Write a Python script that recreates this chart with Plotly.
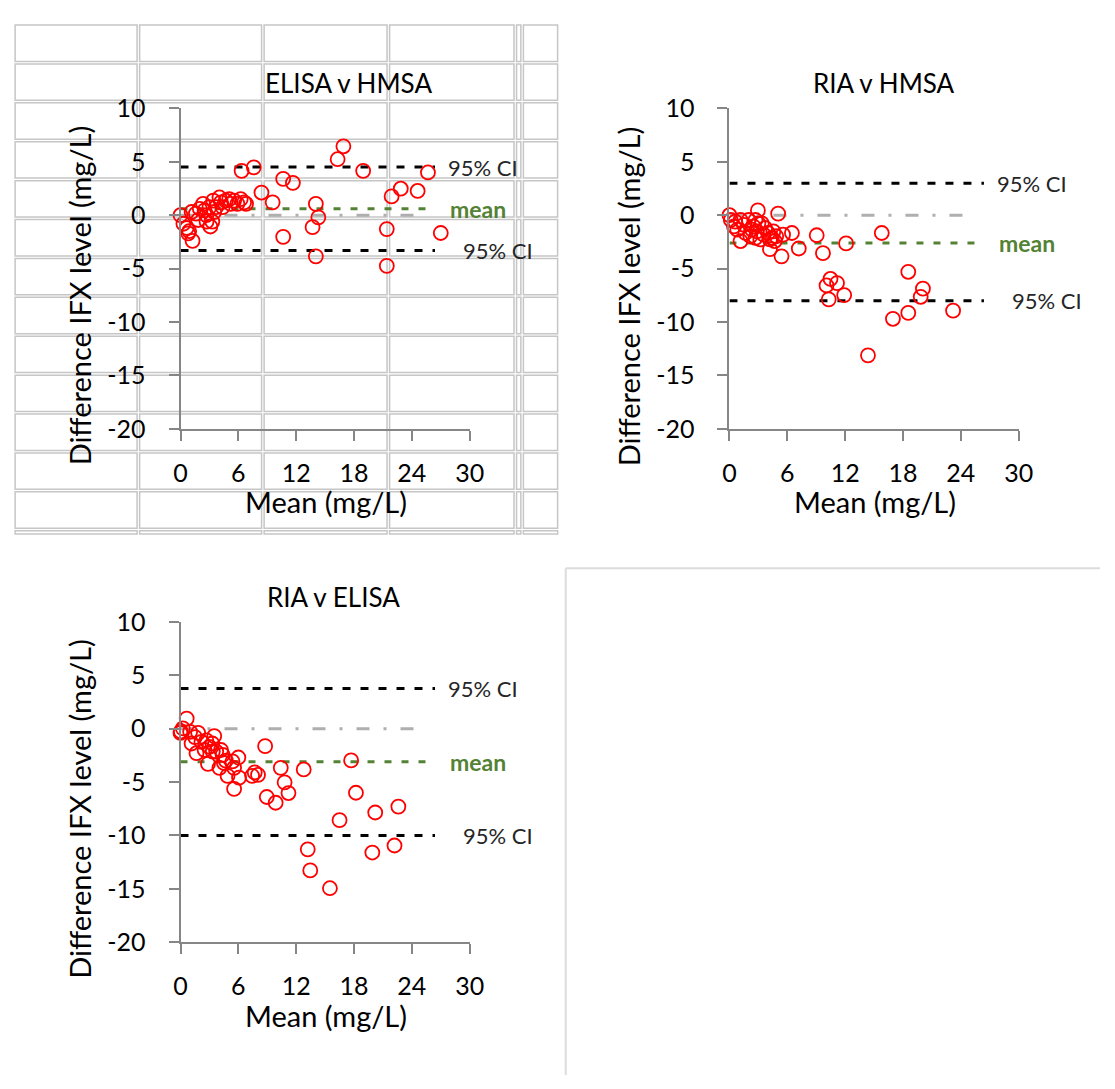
import plotly.graph_objects as go

W, H = 1115, 1089

# ---------------- data ----------------
titles = ["ELISA v HMSA", "RIA v HMSA", "RIA v ELISA"]
x_title = "Mean (mg/L)"
y_title = "Difference IFX level (mg/L)"
x_ticks = [0, 6, 12, 18, 24, 30]
y_ticks = [10, 5, 0, -5, -10, -15, -20]

elisa_hmsa_mean = [0.0, 0.64, 0.9, 1.25, 0.8, 1.6, 1.83, 2.34, 2.5, 3.0, 3.1, 3.3, 3.5,
                   4.04, 4.2, 4.7, 5.05, 5.2, 5.56, 6.24, 6.6, 6.8, 6.34, 7.6, 8.4, 9.56,
                   10.65, 11.66, 10.65, 14.04, 14.3, 13.7, 14.04, 16.3, 16.9, 18.95, 21.4,
                   21.4, 21.9, 22.85, 24.6, 25.67, 27.0, 1.15, 2.0, 2.68, 3.7, 3.4, 4.37,
                   5.9, 0.3, 2.7]
elisa_hmsa_diff = [0.0, -1.2, -1.5, -2.4, -1.7, 0.15, -0.45, 1.06, 0.45, 0.75, -1.06, -0.6, 0.3,
                   1.66, 1.2, 1.36, 1.5, 1.06, 1.36, 1.5, 1.2, 1.06, 4.15, 4.48, 2.12, 1.2,
                   3.4, 3.03, -2.03, 1.06, -0.2, -1.12, -3.85, 5.24, 6.45, 4.15, -1.3,
                   -4.75, 1.76, 2.48, 2.27, 4.0, -1.67, 0.3, 0.6, 0.0, 0.75, 1.36, 0.75,
                   1.06, -0.8, -0.6]

ria_hmsa_mean = [0.0, 2.95, 5.05, 0.47, 0.81, 1.15, 1.15, 1.66, 2.0, 2.17, 2.5, 2.85, 3.2,
                 3.35, 3.7, 4.0, 4.2, 4.4, 4.7, 5.4, 5.56, 6.48, 7.19, 9.05, 9.7, 12.1,
                 15.8, 10.07, 10.48, 11.16, 10.3, 11.9, 14.37, 16.96, 18.55, 18.55, 19.84,
                 20.07, 23.2, 0.14, 0.6, 1.5, 2.7, 3.0, 3.55, 4.2, 4.55, 4.85, 2.7, 2.35]
ria_hmsa_diff = [0.0, 0.45, 0.15, -1.06, -1.36, -0.45, -2.42, -1.67, -0.45, -1.97, -1.06, -1.52,
                 -2.27, -0.76, -1.2, -1.67, -3.18, -2.12, -2.42, -3.85, -1.82, -1.67, -3.12,
                 -1.88, -3.55, -2.64, -1.67, -6.58, -5.97, -6.36, -7.88, -7.48, -13.12,
                 -9.7, -5.3, -9.15, -7.64, -6.88, -8.94, -0.45, -0.6, -0.9, -0.45, -0.76,
                 -1.82, -2.27, -1.52, -1.97, -2.12, -1.36]

ria_elisa_mean = [0.03, 0.24, 0.64, 0.0, 1.15, 1.5, 1.66, 1.83, 2.17, 2.5, 2.68, 2.85, 3.0,
                  3.3, 3.5, 3.7, 4.04, 4.2, 4.37, 4.7, 4.88, 5.39, 5.56, 5.56, 6.0, 6.07,
                  7.43, 8.04, 7.7, 8.78, 8.95, 9.87, 10.4, 10.8, 11.2, 12.78, 13.2, 13.46,
                  15.5, 16.5, 17.7, 18.2, 19.9, 20.2, 22.2, 22.6, 1.0, 3.35, 4.5]
ria_elisa_diff = [-0.27, 0.03, 0.94, -0.4, -1.39, -0.79, -2.3, -0.39, -1.24, -2.0, -1.09, -3.3,
                  -1.7, -1.39, -0.7, -2.15, -3.67, -2.0, -2.45, -3.0, -4.42, -3.06, -3.67,
                  -5.64, -2.7, -4.58, -4.42, -4.33, -4.1, -1.64, -6.4, -6.94, -3.67, -5.03,
                  -6.03, -3.82, -11.3, -13.27, -14.94, -8.57, -2.97, -6.0, -11.6, -7.85,
                  -10.94, -7.3, -0.3, -2.15, -3.2]

ci_upper = [4.5, 3.0, 3.75]
bias_mean = [0.6, -2.6, -3.1]
ci_lower = [-3.3, -8.0, -10.0]
limit_line_x = [0, 26.4]
zero_line_x = [0, 25.2]

panels_x = [elisa_hmsa_mean, ria_hmsa_mean, ria_elisa_mean]
panels_y = [elisa_hmsa_diff, ria_hmsa_diff, ria_elisa_diff]

# ---------------- layout geometry (pixels) ----------------
panel_px = [(177, 472, 95, 424.5), (737, 1032, 95, 424.5), (177, 472, 623, 952.5)]
title_pos = [(348, 69), (895, 69), (333, 597)]

FONT = "Lato"
AXIS_GRAY = "#868686"
RED = "#FF0000"
GREEN = "#548235"


def fx(px):
    return px / W


def fy(py):
    return 1 - py / H


fig = go.Figure()
layout = dict(
    width=W, height=H, margin=dict(l=0, r=0, t=0, b=0), autosize=False,
    paper_bgcolor="white", plot_bgcolor="rgba(0,0,0,0)",
    showlegend=False, font=dict(family=FONT, color="#000000"),
)
annotations = []
shapes = []

for i in range(3):
    n = "" if i == 0 else str(i + 1)
    xa, ya = "x" + n, "y" + n
    x0, x1, y0, y1 = panel_px[i]
    layout["xaxis" + n] = dict(
        domain=[fx(x0), fx(x1)], range=[0, 30], anchor=ya,
        tickvals=x_ticks, ticktext=[str(v) for v in x_ticks],
        showline=True, linecolor=AXIS_GRAY, linewidth=2,
        ticks="outside", ticklen=10, tickwidth=2, tickcolor=AXIS_GRAY,
        showgrid=False, zeroline=False, ticklabelstandoff=11,
        tickfont=dict(family=FONT, size=25, color="#000000"),
    )
    layout["yaxis" + n] = dict(
        domain=[fy(y1), fy(y0)], range=[-20, 10], anchor=xa,
        tickvals=y_ticks, ticktext=[str(v) for v in y_ticks],
        showline=True, linecolor=AXIS_GRAY, linewidth=2,
        ticks="outside", ticklen=10, tickwidth=2, tickcolor=AXIS_GRAY,
        showgrid=False, zeroline=False, ticklabelstandoff=18,
        tickfont=dict(family=FONT, size=25, color="#000000"),
    )

    # zero reference line (gray dash-dot)
    fig.add_trace(go.Scatter(
        x=zero_line_x, y=[0, 0], mode="lines", xaxis=xa, yaxis=ya,
        line=dict(color="#afafaf", width=3, dash="13px,14px,3px,14px"),
        cliponaxis=False, hoverinfo="skip"))
    # limits of agreement
    for val in (ci_upper[i], ci_lower[i]):
        fig.add_trace(go.Scatter(
            x=limit_line_x, y=[val, val], mode="lines", xaxis=xa, yaxis=ya,
            line=dict(color="#000000", width=3, dash="8px,10px"),
            cliponaxis=False, hoverinfo="skip"))
    # mean difference
    fig.add_trace(go.Scatter(
        x=limit_line_x, y=[bias_mean[i], bias_mean[i]], mode="lines", xaxis=xa, yaxis=ya,
        line=dict(color=GREEN, width=3, dash="7px,10px"),
        cliponaxis=False, hoverinfo="skip"))
    # data points
    fig.add_trace(go.Scatter(
        x=panels_x[i], y=panels_y[i], mode="markers", xaxis=xa, yaxis=ya,
        marker=dict(symbol="circle-open", size=14, color=RED, line=dict(width=1.8, color=RED)),
        cliponaxis=False))

    # line labels
    annotations.append(dict(x=27.57, y=ci_upper[i], xref=xa, yref=ya, text="95% CI",
                            showarrow=False, xanchor="left", yanchor="middle",
                            font=dict(family=FONT, size=22, color="#262626")))
    annotations.append(dict(x=27.8, y=bias_mean[i], xref=xa, yref=ya, text="<b>mean</b>",
                            showarrow=False, xanchor="left", yanchor="middle",
                            font=dict(family=FONT, size=23, color=GREEN)))
    annotations.append(dict(x=29.1, y=ci_lower[i], xref=xa, yref=ya, text="95% CI",
                            showarrow=False, xanchor="left", yanchor="middle",
                            font=dict(family=FONT, size=22, color="#262626")))

    # chart title
    tx, ty = title_pos[i]
    annotations.append(dict(x=fx(tx), y=fy(ty), xref="paper", yref="paper", text=titles[i],
                            showarrow=False, xanchor="center", yanchor="middle",
                            font=dict(family=FONT, size=26, color="#000000")))
    # axis titles
    annotations.append(dict(x=fx(x0 - 103), y=fy((y0 + y1) / 2 + 28), xref="paper", yref="paper",
                            text=y_title, textangle=-90,
                            showarrow=False, xanchor="center", yanchor="middle",
                            font=dict(family=FONT, size=29, color="#000000")))
    annotations.append(dict(x=fx(x0 + 148), y=fy(y1 + 75), xref="paper", yref="paper",
                            text=x_title, showarrow=False, xanchor="center", yanchor="middle",
                            font=dict(family=FONT, size=29, color="#000000")))

# spreadsheet cell grid behind the first chart
col_edges = [7, 134, 261, 389, 518.5, 525.5, 563]
row_edges = [8 + 40 * k for k in range(14)] + [534]
inset = 1.3
for c in range(len(col_edges) - 1):
    for r in range(len(row_edges) - 1):
        shapes.append(dict(type="rect", xref="paper", yref="paper", layer="below",
                           x0=fx(col_edges[c] + inset), x1=fx(col_edges[c + 1] - inset),
                           y0=fy(row_edges[r] + inset), y1=fy(row_edges[r + 1] - inset),
                           line=dict(color="#c6c6c6", width=1.5), fillcolor="rgba(0,0,0,0)"))

# empty frame bottom-right (only top and left edges are visible)
shapes.append(dict(type="line", xref="paper", yref="paper", layer="below",
                   x0=fx(570), x1=1, y0=fy(568), y1=fy(568), line=dict(color="#dcdcdc", width=2)))
shapes.append(dict(type="line", xref="paper", yref="paper", layer="below",
                   x0=fx(570), x1=fx(570), y0=0, y1=fy(568), line=dict(color="#dcdcdc", width=2)))

layout["annotations"] = annotations
layout["shapes"] = shapes
fig.update_layout(**layout)
fig.write_html("out.html")
